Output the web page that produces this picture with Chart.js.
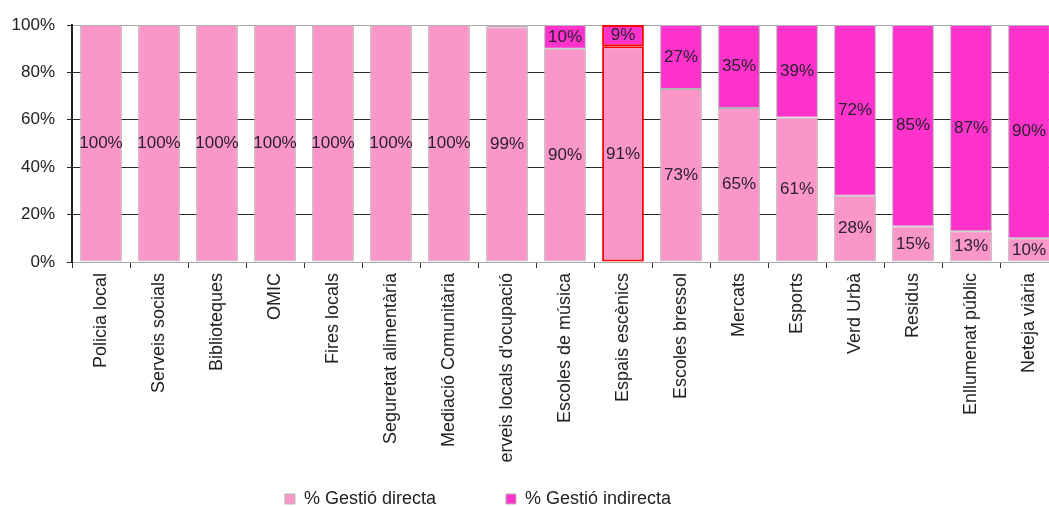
<!DOCTYPE html>
<html>
<head>
<meta charset="utf-8">
<script src="https://cdn.jsdelivr.net/npm/chart.js@4"></script>
<style>
    html, body { margin: 0; padding: 0; background: #fff; overflow: hidden; }
    #wrap { position: relative; width: 1060px; height: 507px; }
</style>
</head>
<body>
<div id="wrap"><canvas id="gestioChart"></canvas></div>
<script>
// Service categories and management split (%)
const serveis = [
    'Policia local', 'Serveis socials', 'Biblioteques', 'OMIC', 'Fires locals',
    'Seguretat alimentària', 'Mediació Comunitària', "Serveis locals d'ocupació",
    'Escoles de música', 'Espais escènics', 'Escoles bressol', 'Mercats', 'Esports',
    'Verd Urbà', 'Residus', 'Enllumenat públic', 'Neteja viària'
];
const gestioDirecta   = [100, 100, 100, 100, 100, 100, 100, 99, 90, 91, 73, 65, 61, 28, 15, 13, 10];
const gestioIndirecta = [0, 0, 0, 0, 0, 0, 0, 1, 10, 9, 27, 35, 39, 72, 85, 87, 90];
const yTicks = [0, 20, 40, 60, 80, 100];

const highlighted = 'Espais escènics';
const FONT = "'Liberation Sans', Arial, sans-serif";

// per-bar border colours: the highlighted service gets a red frame
function borderColors() {
    return serveis.map(s => s === highlighted ? '#ff0000' : '#b4b4b4');
}
function borderWidths() {
    return serveis.map(s => s === highlighted ? 2 : 1);
}

// Draw the percentage text in the middle of each segment
const segmentLabels = {
    id: 'segmentLabels',
    afterDatasetsDraw(chart) {
        const ctx = chart.ctx;
        ctx.save();
        ctx.font = `17px ${FONT}`;
        ctx.fillStyle = '#2a2030';
        ctx.textAlign = 'center';
        ctx.textBaseline = 'middle';
        chart.data.datasets.forEach((ds, i) => {
            const meta = chart.getDatasetMeta(i);
            meta.data.forEach((bar, j) => {
                const v = ds.data[j];
                if (v < 5) return;
                ctx.fillText(v + '%', bar.x, (bar.y + bar.base) / 2);
            });
        });
        ctx.restore();
    }
};

// Legend sits left of centre and a bit lower in the original
const legendShift = {
    id: 'legendShift',
    afterLayout(chart) {
        const lg = chart.legend;
        lg.left -= 51;
        lg.right -= 51;
        lg.top = 420;
        lg.bottom = 507;
    }
};

const ctx = document.getElementById('gestioChart').getContext('2d');
const gestioChart = new Chart(ctx, {
    type: 'bar',
    data: {
        labels: serveis,
        datasets: [
            {
                label: '% Gestió directa',
                data: gestioDirecta,
                backgroundColor: '#fa96c8',
                borderColor: borderColors(),
                borderWidth: borderWidths(),
                borderSkipped: false,
                barPercentage: 0.72,
                categoryPercentage: 1
            },
            {
                label: '% Gestió indirecta',
                data: gestioIndirecta,
                backgroundColor: '#ff33cc',
                borderColor: borderColors(),
                borderWidth: borderWidths(),
                borderSkipped: false,
                barPercentage: 0.72,
                categoryPercentage: 1
            }
        ]
    },
    options: {
        responsive: true,
        maintainAspectRatio: false,
        animation: false,
        layout: { padding: { top: 25, right: 2, left: 0, bottom: 0 } },
        plugins: {
            tooltip: { enabled: false },
            legend: {
                position: 'bottom',
                maxHeight: 45,
                labels: {
                    font: { family: FONT, size: 18 },
                    color: '#222',
                    boxWidth: 10,
                    boxHeight: 10,
                    padding: 70
                }
            }
        },
        scales: {
            x: {
                stacked: true,
                afterFit: scale => { scale.height = 200; },
                grid: {
                    offset: true,
                    drawOnChartArea: false,
                    tickLength: 6,
                    color: '#333'
                },
                border: { color: '#aaa', width: 1 },
                ticks: {
                    autoSkip: false,
                    maxRotation: 90,
                    minRotation: 90,
                    padding: 5,
                    color: '#222',
                    font: { family: FONT, size: 18 }
                }
            },
            y: {
                stacked: true,
                min: 0,
                max: 100,
                afterFit: scale => { scale.width = 72; },
                afterBuildTicks: scale => { scale.ticks = yTicks.map(v => ({ value: v })); },
                grid: {
                    color: c => (c.tick && (c.tick.value === 100 || c.tick.value === 0)) ? '#aaa' : '#2a2a2a',
                    tickColor: '#2a2a2a',
                    tickLength: 5
                },
                border: { color: '#222', width: 2 },
                ticks: {
                    padding: 12,
                    color: '#222',
                    font: { family: FONT, size: 17 },
                    callback: v => v + '%'
                }
            }
        }
    },
    plugins: [segmentLabels, legendShift]
});
</script>
</body>
</html>
